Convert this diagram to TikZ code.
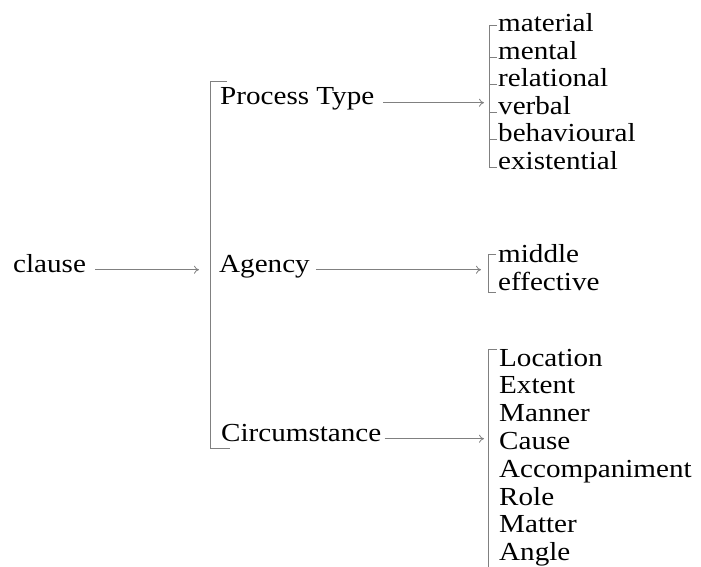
\documentclass[tikz,border=0pt]{standalone}
\usepackage{fontspec}
\setmainfont{Liberation Serif}[FakeStretch=1.12]
\usetikzlibrary{arrows.meta}
\definecolor{linegray}{gray}{0.5}
\tikzset{
  lbl/.style={anchor=base west,inner sep=0pt,font=\fontsize{26}{28}\selectfont},
  net/.style={draw=linegray,line width=0.8pt},
  arr/.style={net,-{Computer Modern Rightarrow[length=5pt,width=8pt]}},
}
\begin{document}
\begin{tikzpicture}[x=1pt,y=-1pt]
 \useasboundingbox (0,0) rectangle (701,567);
 % systems
 \node[lbl] (clause) at (13,272) {clause};
 \node[lbl] (ptype) at (220,105) {Process Type};
 \node[lbl] (agency) at (219,272) {Agency};
 \node[lbl] (circ) at (221,441) {Circumstance};
 % process types
 \node[lbl] (mat) at (498,32) {material};
 \node[lbl] (men) at (498,59.4) {mental};
 \node[lbl] (rel) at (498,86.8) {relational};
 \node[lbl] (ver) at (498,114.2) {verbal};
 \node[lbl] (beh) at (498,141.6) {behavioural};
 \node[lbl] (exi) at (498,169) {existential};
 % agency
 \node[lbl] (mid) at (498,262) {middle};
 \node[lbl] (eff) at (498,290) {effective};
 % circumstances
 \node[lbl] (loc) at (499,366) {Location};
 \node[lbl] (ext) at (499,393.8) {Extent};
 \node[lbl] (man) at (499,421.6) {Manner};
 \node[lbl] (cau) at (499,449.4) {Cause};
 \node[lbl] (acc) at (499,477.2) {Accompaniment};
 \node[lbl] (rol) at (499,505) {Role};
 \node[lbl] (mat2) at (499,532.8) {Matter};
 \node[lbl] (ang) at (499,560.6) {Angle};
 % bracket ends
 \coordinate (bigbar) at (199,0);
 \coordinate (pbar) at (484,0);
 \coordinate (abar) at (481,0);
 \coordinate (cbar) at (484,0);
 % brackets
 \draw[net] (227,81) -- (210.5,81) -- (210.5,448) -- (230,448);
 \draw[net] (497,25) -- (489,25) -- (489,167) -- (497,167);
 \draw[net] ([xshift=-1pt]men.mid west) -- ([xshift=-9pt]men.mid west);
 \draw[net] ([xshift=-1pt]rel.mid west) -- ([xshift=-9pt]rel.mid west);
 \draw[net] ([xshift=-1pt]ver.mid west) -- ([xshift=-9pt]ver.mid west);
 \draw[net] ([xshift=-1pt]beh.mid west) -- ([xshift=-9pt]beh.mid west);
 \draw[net] (496,254) -- (488,254) -- (488,292) -- (496,292);
 \draw[net] (497,349) -- (488,349) -- (488,567);
 % arrows
 \draw[arr] ([xshift=9pt]clause.mid east) -- (clause.mid east -| bigbar);
 \draw[arr] ([xshift=9pt]ptype.mid east) -- (ptype.mid east -| pbar);
 \draw[arr] ([xshift=6pt]agency.mid east) -- (agency.mid east -| abar);
 \draw[arr] ([xshift=3pt]circ.mid east) -- (circ.mid east -| cbar);
\end{tikzpicture}
\end{document}
